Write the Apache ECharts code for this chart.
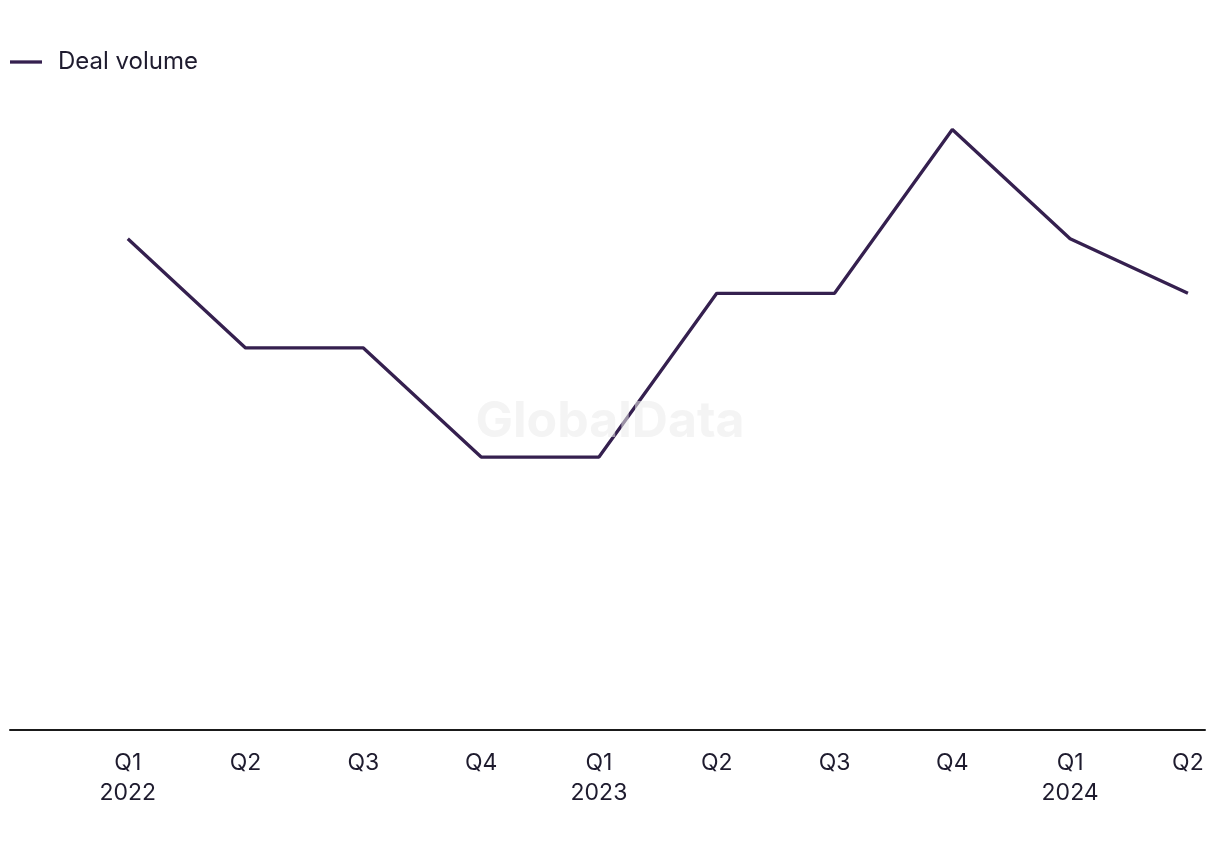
<!DOCTYPE html>
<html>
<head>
<meta charset="utf-8">
<script src="https://cdn.jsdelivr.net/npm/echarts@6/dist/echarts.min.js"></script>
<style>html,body{margin:0;padding:0;background:#fff}#c{width:1220px;height:850px}</style>
</head>
<body>
<div id="c"></div>
<script>
const quarterLabels = ['Q1\n2022','Q2','Q3','Q4','Q1\n2023','Q2','Q3','Q4','Q1\n2024','Q2'];
const dealVolume = [9, 7, 7, 5, 5, 8, 8, 11, 9, 8];
const seriesName = 'Deal volume';

const chart = echarts.init(document.getElementById('c'));
const pts = dealVolume.map((v, i) => [i + 1, v]);
const font = 'Inter, "Liberation Sans", sans-serif';
chart.setOption({
  animation: false,
  grid: { left: 10, right: 15, top: 75, bottom: 120, containLabel: false },
  legend: {
    left: 10, top: 50, padding: 0,
    itemWidth: 32, itemHeight: 14,
    data: [{ name: seriesName, icon: 'path://M0,5.7 L32,5.7 L32,9 L0,9 Z' }],
    textStyle: { fontFamily: font, fontSize: 24, color: '#1e1b2e', padding: [0, 0, 0, 11] }
  },
  xAxis: {
    type: 'value', min: 0, max: 10.145, interval: 1,
    axisLine: { show: true, lineStyle: { color: '#1a1a1a', width: 2 } },
    axisTick: { show: false },
    splitLine: { show: false },
    axisLabel: {
      showMaxLabel: false, showMinLabel: false,
      margin: 18, fontFamily: font, fontSize: 23, color: '#1e1b2e', lineHeight: 30,
      formatter: v => (Number.isInteger(v) && v >= 1 && v <= quarterLabels.length) ? quarterLabels[v - 1] : ''
    }
  },
  yAxis: { type: 'value', min: 0, max: 12, show: false, splitLine: { show: false } },
  series: [{
    name: seriesName, type: 'line', data: pts, symbol: 'none',
    itemStyle: { color: '#35204f' },
    lineStyle: { color: '#35204f', width: 3.3 }
  }],
  graphic: [{
    type: 'text', left: 'center', top: 397, z: 100, silent: true,
    style: { text: 'GlobalData', font: 'bold 50px ' + font, fill: 'rgba(235,235,235,0.55)' }
  }]
});
</script>
</body>
</html>
